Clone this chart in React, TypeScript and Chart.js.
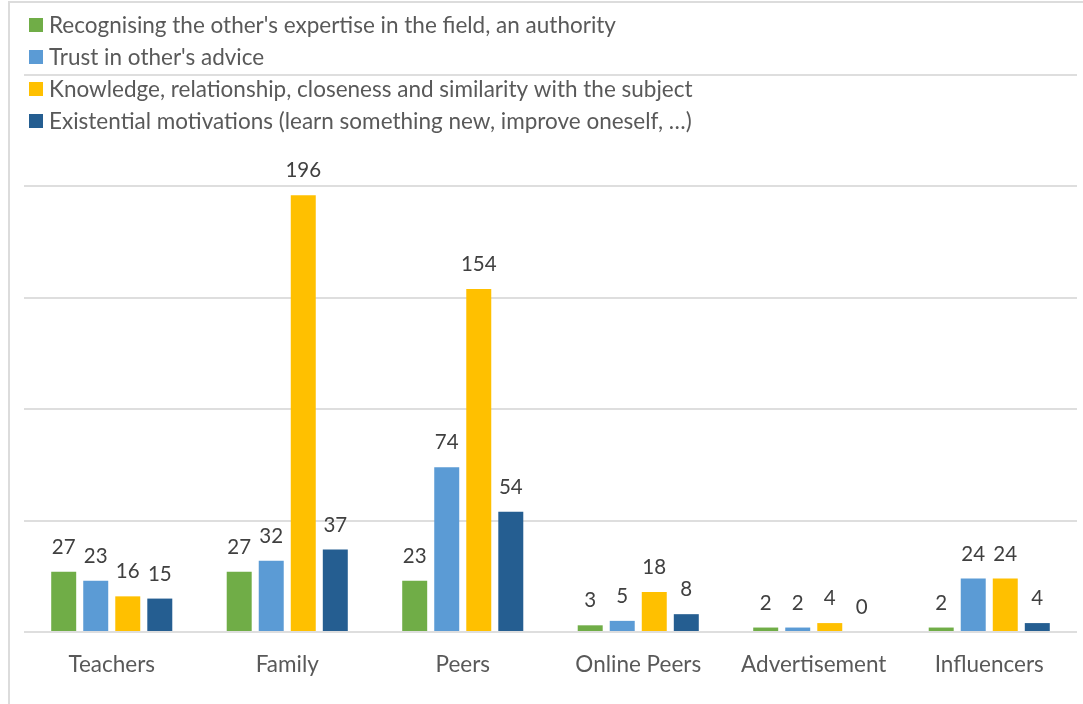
import React, { useEffect, useRef } from "react";
import { Chart, registerables } from "chart.js";

Chart.register(...registerables);

const categories = ["Teachers", "Family", "Peers", "Online Peers", "Advertisement", "Influencers"];
const seriesNames = [
  "Recognising the other's expertise in the field, an authority",
  "Trust in other's advice",
  "Knowledge, relationship, closeness and similarity with the subject",
  "Existential motivations (learn something new, improve oneself, …)",
];
const expertise = [27, 27, 23, 3, 2, 2];
const trust = [23, 32, 74, 5, 2, 24];
const knowledge = [16, 196, 154, 18, 4, 24];
const existential = [15, 37, 54, 8, 0, 4];
const colors = ["#70AD47", "#5B9BD5", "#FFC000", "#255E91"];

const FONT = "Lato, 'Open Sans', sans-serif";

const labelsPlugin = {
  id: "valueLabels",
  afterDatasetsDraw(chart: any) {
    const ctx = chart.ctx;
    ctx.save();
    ctx.font = `20.5px ${FONT}`;
    ctx.fillStyle = "#404040";
    ctx.textAlign = "center";
    ctx.textBaseline = "alphabetic";
    chart.data.datasets.forEach((ds: any, i: number) => {
      const meta = chart.getDatasetMeta(i);
      meta.data.forEach((bar: any, j: number) => {
        ctx.fillText(String(ds.data[j]), bar.x, bar.y - 18);
      });
    });
    // legend
    ctx.font = `22.5px ${FONT}`;
    ctx.textAlign = "left";
    ctx.textBaseline = "middle";
    chart.data.datasets.forEach((ds: any, i: number) => {
      const cy = 25 + i * 32;
      ctx.fillStyle = ds.backgroundColor;
      ctx.fillRect(29, cy - 7, 14, 14);
      ctx.fillStyle = "#595959";
      ctx.fillText(ds.label, 49, cy + 1);
    });
    ctx.restore();
  },
};

export default function App() {
  const ref = useRef<HTMLCanvasElement | null>(null);
  useEffect(() => {
    if (!ref.current) return;
    const data = [expertise, trust, knowledge, existential];
    const chart = new Chart(ref.current, {
      type: "bar",
      data: {
        labels: categories,
        datasets: data.map((d, i) => ({
          label: seriesNames[i],
          data: d,
          backgroundColor: colors[i],
          categoryPercentage: 0.73,
          barPercentage: 0.78,
        })),
      },
      options: {
        animation: false,
        responsive: false,
        maintainAspectRatio: false,
        layout: { padding: { left: 24, right: 6, top: 75, bottom: 0 } },
        plugins: { legend: { display: false }, tooltip: { enabled: false } },
        scales: {
          x: {
            grid: { display: false },
            border: { display: false },
            ticks: { color: "#595959", font: { family: FONT, size: 22.5 }, padding: 11 },
            afterFit: (s: any) => { s.height = 72; },
          },
          y: {
            min: 0,
            max: 250,
            ticks: { display: false, stepSize: 50 },
            border: { display: false },
            grid: { color: "#dedede", lineWidth: 2, drawTicks: false },
            afterFit: (s: any) => { s.width = 0; },
          },
        },
      },
      plugins: [labelsPlugin],
    });
    return () => chart.destroy();
  }, []);
  return (
    <div style={{ position: "fixed", left: 0, top: 0, width: 1083, height: 704, overflow: "hidden", background: "#fff" }}>
      <div style={{ position: "absolute", left: 8, top: 1, width: 1100, height: 740, border: "2px solid #dcdcdc" }} />
      <canvas ref={ref} width={1083} height={704} style={{ position: "absolute", left: 0, top: 0 }} />
    </div>
  );
}
